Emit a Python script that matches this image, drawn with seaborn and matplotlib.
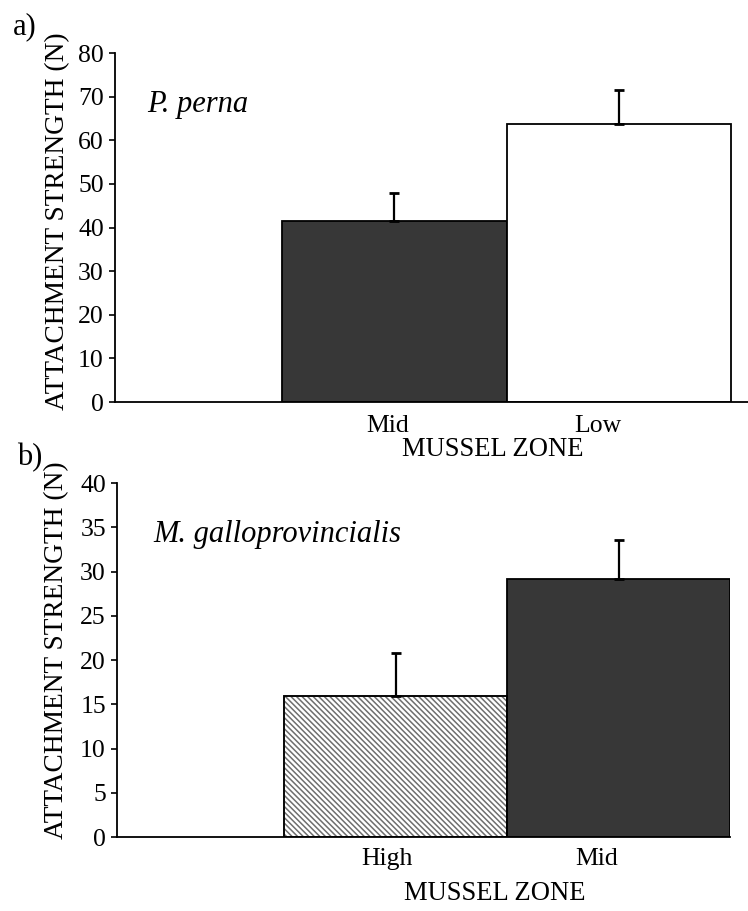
import numpy as np
import pandas as pd
import matplotlib
matplotlib.use("Agg")
import matplotlib.pyplot as plt
import matplotlib.patches as mpatches
import matplotlib.transforms as mtransforms
import seaborn as sns

# Panel a: Perna perna attachment strength by zone (mean, upper SE)
perna_zones = ["Mid", "Low"]
perna_strength = [41.4, 63.8]
perna_se = [6.5, 7.8]

# Panel b: Mytilus galloprovincialis attachment strength by zone
gallo_zones = ["High", "Mid"]
gallo_strength = [15.9, 29.2]
gallo_se = [4.9, 4.4]

zone_fill = {"High": "white", "Mid": "#373737", "Low": "white"}

sns.set_theme(style="ticks")
plt.rcParams["font.family"] = ["Liberation Serif", "DejaVu Serif"]
plt.rcParams["hatch.linewidth"] = 1.1
plt.rcParams["axes.linewidth"] = 1.3
for key in ("text.color", "axes.labelcolor", "xtick.color", "ytick.color",
            "axes.edgecolor"):
    plt.rcParams[key] = "black"

TICK_FS = 18.5
LABEL_FS = 19.7


def draw_panel(ax, zones, strength, se, ymax, ystep, xlim, species,
               species_pos, label_offsets, xlabel_coords, ylabel_coords, xpad):
    df = pd.DataFrame({"zone": zones, "strength": strength})
    sns.barplot(data=df, x="zone", y="strength", hue="zone", order=zones,
                hue_order=zones, palette=zone_fill, width=1.0,
                edgecolor="black", linewidth=1.3, legend=False,
                errorbar=None, ax=ax)

    # hatched fill for the high-shore bar
    for bar, zone in zip(ax.patches, zones):
        if zone == "High":
            bar.set_hatch("\\\\\\\\\\\\")
            if hasattr(bar, "set_hatchcolor"):
                bar.set_hatchcolor("#6e6e6e")
            else:
                bar.set_edgecolor("#6e6e6e")
                ax.add_patch(mpatches.Rectangle(
                    bar.get_xy(), bar.get_width(), bar.get_height(),
                    fill=False, edgecolor="black", linewidth=1.3,
                    zorder=bar.get_zorder() + 0.1))

    # one-sided error bars (upper SE only)
    pos = np.arange(len(zones))
    ax.errorbar(pos, strength, yerr=[np.zeros(len(se)), se], fmt="none",
                ecolor="black", elinewidth=1.6, capsize=3.3, capthick=2.0,
                zorder=5)

    ax.set_ylim(0, ymax)
    ax.set_yticks(np.arange(0, ymax + ystep / 2, ystep))
    ax.set_xlim(*xlim)
    sns.despine(ax=ax)
    ax.tick_params(axis="y", direction="out", length=4, width=1.2,
                   pad=4, labelsize=TICK_FS, colors="black")
    ax.tick_params(axis="x", length=0, pad=xpad, labelsize=TICK_FS,
                   colors="black")
    ax.set_xticks(pos)
    ax.set_xticklabels(zones)
    for lab, dx in zip(ax.get_xticklabels(), label_offsets):
        lab.set_transform(lab.get_transform() + mtransforms.ScaledTranslation(
            dx / 100.0, 0, ax.figure.dpi_scale_trans))

    ax.set_xlabel("MUSSEL ZONE", fontsize=LABEL_FS - 0.5, color="black")
    ax.xaxis.set_label_coords(*xlabel_coords)
    ax.set_ylabel("ATTACHMENT STRENGTH (N)", fontsize=LABEL_FS, color="black")
    ax.yaxis.set_label_coords(*ylabel_coords)
    ax.text(species_pos[0], species_pos[1], species, transform=ax.transAxes,
            fontsize=22, fontstyle="italic", ha="left", va="baseline",
            color="black")
    ax.grid(False)
    ax.set_facecolor("white")


fig = plt.figure(figsize=(7.48, 9.11), dpi=100)
fig.patch.set_facecolor("white")
ax_a = fig.add_axes([0.1537, 0.5587, 0.8463, 0.3831])
ax_b = fig.add_axes([0.1564, 0.0812, 0.8195, 0.3886])

draw_panel(ax_a, perna_zones, perna_strength, perna_se, 80, 10,
           (-1.246, 1.576), "P. perna", (0.0506, 0.831),
           [-7, -21], (0.597, -0.10), (-0.071, 0.519), 9)
draw_panel(ax_b, gallo_zones, gallo_strength, gallo_se, 40, 5,
           (-1.25, 1.5), "M. galloprovincialis", (0.0587, 0.833),
           [-9, -22], (0.617, -0.125), (-0.078, 0.528), 8)

fig.text(0.0174, 0.9704, "a)", fontsize=22, ha="left", va="center")
fig.text(0.0227, 0.498, "b)", fontsize=22, ha="left", va="center")

fig.savefig("out.png", dpi=100, facecolor="white")
